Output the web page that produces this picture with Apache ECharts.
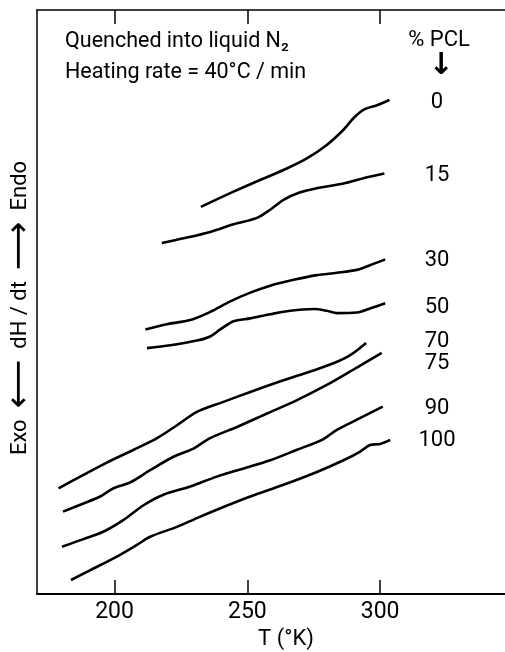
<!DOCTYPE html>
<html><head><meta charset="utf-8">
<script src="https://cdn.jsdelivr.net/npm/echarts@6/dist/echarts.min.js"></script>
<style>html,body{margin:0;padding:0;background:#fff;overflow:hidden}#c{width:505px;height:652px}</style>
</head><body><div id="c"></div>
<script>
// ---- data (T in K, dH/dt in arbitrary units) ----
const xTicks = [200, 250, 300];
const pctLabels = ['0', '15', '30', '50', '70', '75', '90', '100'];

const T_0   = [232.5, 244.8, 254.8, 263.6, 272.4, 279.9, 286.2, 290.0, 293.7, 298.8, 303.5];
const H_0   = [66.3, 68.9, 70.9, 72.6, 74.6, 76.9, 79.5, 81.5, 82.9, 83.7, 84.6];
const T_15  = [217.8, 226.0, 236.0, 244.8, 253.6, 258.6, 263.6, 269.9, 276.2, 286.2, 293.7, 301.6];
const H_15  = [60.1, 60.9, 62.0, 63.3, 64.4, 65.8, 67.5, 68.8, 69.5, 70.3, 71.2, 72.0];
const T_30  = [211.6, 219.7, 228.5, 236.0, 243.6, 251.1, 258.6, 267.4, 276.2, 283.7, 291.2, 296.2, 301.9];
const H_30  = [45.3, 46.2, 46.9, 48.3, 50.1, 51.6, 52.8, 53.8, 54.6, 55.0, 55.5, 56.3, 57.3];
const T_50  = [212.2, 221.0, 231.0, 236.0, 239.8, 244.8, 251.1, 258.6, 266.1, 274.9, 279.9, 283.7, 291.2, 296.2, 301.9];
const H_50  = [42.1, 42.6, 43.4, 44.1, 45.3, 46.7, 47.2, 47.9, 48.5, 48.8, 48.5, 48.1, 48.2, 48.9, 49.8];
const T_70  = [178.9, 188.3, 197.1, 207.2, 216.0, 223.5, 231.0, 241.0, 251.1, 263.6, 273.7, 282.4, 288.7, 294.7];
const H_70  = [18.1, 20.4, 22.5, 24.7, 26.7, 28.9, 31.2, 32.9, 34.6, 36.6, 38.1, 39.5, 40.9, 43.0];
const T_75  = [180.6, 188.3, 194.6, 199.6, 205.9, 213.4, 222.2, 229.7, 236.0, 246.1, 257.4, 268.7, 279.9, 288.7, 295.0, 300.6];
const H_75  = [14.1, 15.5, 16.7, 18.1, 19.1, 21.2, 23.5, 24.9, 26.7, 28.6, 30.9, 33.2, 35.8, 38.1, 39.8, 41.3];
const T_90  = [180.2, 188.3, 195.9, 203.4, 210.9, 218.4, 228.5, 238.5, 248.6, 258.6, 268.7, 278.1, 283.7, 293.7, 301.0];
const H_90  = [8.1, 9.4, 10.7, 12.7, 15.2, 17.0, 18.4, 20.1, 21.5, 22.9, 24.7, 26.4, 28.1, 30.4, 32.1];
const T_100 = [183.6, 190.9, 200.9, 208.4, 213.4, 223.5, 231.0, 241.0, 251.1, 263.6, 276.2, 286.2, 292.5, 296.2, 300.0, 303.8];
const H_100 = [2.4, 4.1, 6.4, 8.4, 9.8, 11.5, 13.0, 14.9, 16.7, 18.7, 20.9, 22.9, 24.4, 25.5, 25.7, 26.4];

const curves = [[T_0, H_0], [T_15, H_15], [T_30, H_30], [T_50, H_50],
                [T_70, H_70], [T_75, H_75], [T_90, H_90], [T_100, H_100]];

// ---- layout (pixels) ----
const labelX = 437;
const labelY = [102, 175, 260, 307, 341, 363, 408, 440];
const FONT = 'Roboto, "DejaVu Sans", sans-serif';
const X_MIN = 170.8, X_MAX = 358.3;

const chart = echarts.init(document.getElementById('c'), null, {renderer: 'canvas'});

const series = curves.map((c, i) => ({
  type: 'line',
  name: pctLabels[i],
  data: c[0].map((t, j) => [t, c[1][j]]),
  showSymbol: false,
  smooth: 0.3,
  silent: true,
  lineStyle: {color: '#000', width: 2.6}
}));

const graphic = [
  {type: 'text', left: 65, top: 31, style: {text: 'Quenched into liquid N\u2082', font: '21.5px ' + FONT, fill: '#000'}},
  {type: 'text', left: 65, top: 62, style: {text: 'Heating rate = 40\u00B0C / min', font: '21.5px ' + FONT, fill: '#000'}},
  {type: 'text', x: 439, y: 40, style: {text: '% PCL', font: '22px ' + FONT, fill: '#000', align: 'center', verticalAlign: 'middle'}},
  {type: 'text', x: 441, y: 66, style: {text: '\u2193', font: 'bold 30px "DejaVu Sans"', fill: '#000', align: 'center', verticalAlign: 'middle'}},
  {type: 'text', x: 20, y: 308, rotation: Math.PI / 2,
   style: {
     text: 'Exo  {a|\u27F5}  dH / dt  {a|\u27F6}  Endo',
     font: '22px ' + FONT, fill: '#000', align: 'center', verticalAlign: 'middle',
     rich: {a: {fontSize: 34, fontFamily: 'DejaVu Sans', fill: '#000'}}
   }},
  {type: 'text', x: 286, y: 639, style: {text: 'T (\u00B0K)', font: '22px ' + FONT, fill: '#000', align: 'center', verticalAlign: 'middle'}}
].concat(pctLabels.map((p, i) => ({
  type: 'text', x: labelX, y: labelY[i],
  style: {text: p, font: '22px ' + FONT, fill: '#000', align: 'center', verticalAlign: 'middle'}
})));

chart.setOption({
  animation: false,
  backgroundColor: '#fff',
  grid: {left: 37, top: 10, width: 498, height: 584, containLabel: false, outerBoundsMode: 'none'},
  xAxis: [{
    type: 'value', position: 'bottom', min: X_MIN, max: X_MAX,
    axisLine: {onZero: false, lineStyle: {color: '#000', width: 2}},
    axisTick: {inside: true, length: 14, customValues: xTicks, lineStyle: {color: '#000', width: 1.5}},
    axisLabel: {customValues: xTicks, fontSize: 23, fontFamily: FONT, color: '#000', margin: 7},
    splitLine: {show: false}
  }, {
    type: 'value', position: 'top', min: X_MIN, max: X_MAX,
    axisLine: {show: true, onZero: false, lineStyle: {color: '#000', width: 1.5}},
    axisTick: {show: true, inside: true, length: 14, customValues: xTicks, lineStyle: {color: '#000', width: 1.5}},
    axisLabel: {show: false},
    splitLine: {show: false}
  }],
  yAxis: {
    type: 'value', min: 0, max: 100,
    axisLine: {show: true, onZero: false, lineStyle: {color: '#000', width: 1.5}},
    axisTick: {show: false}, axisLabel: {show: false}, splitLine: {show: false}
  },
  series: series,
  graphic: graphic
});
</script>
</body></html>
